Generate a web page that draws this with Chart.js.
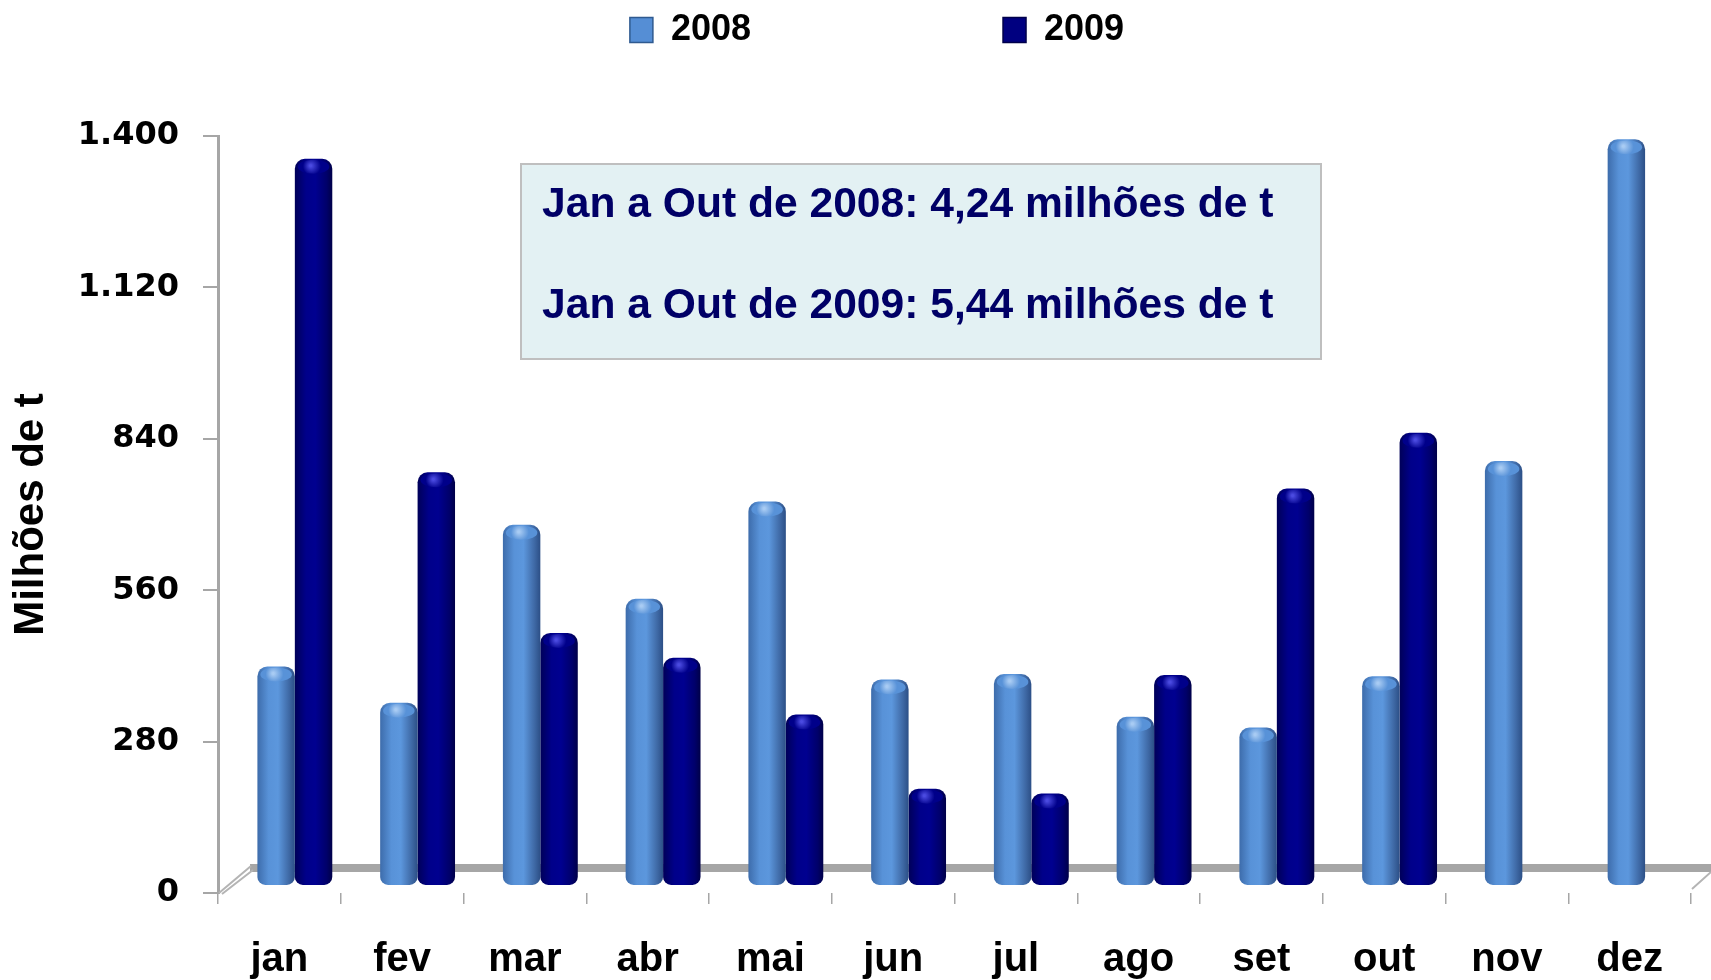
<!DOCTYPE html>
<html>
<head>
<meta charset="utf-8">
<script src="https://cdn.jsdelivr.net/npm/chart.js@4.4.1/dist/chart.umd.min.js"></script>
<style>
  html, body { margin: 0; padding: 0; background: #fff; }
</style>
</head>
<body>
<canvas id="grafico" width="1711" height="980"></canvas>
<script>
const meses = ['jan', 'fev', 'mar', 'abr', 'mai', 'jun', 'jul', 'ago', 'set', 'out', 'nov', 'dez'];
const valores2008 = [388, 321, 650, 513, 693, 364, 374, 295, 275, 370, 768, 1363];
const valores2009 = [1327, 747, 450, 404, 299, 162, 153, 372, 717, 820, null, null];
const ticksY = ['0', '280', '560', '840', '1.120', '1.400'];
const textoCaixa = ['Jan a Out de 2008: 4,24 milhões de t', 'Jan a Out de 2009: 5,44 milhões de t'];

const fonte = '"Liberation Sans", Arial, sans-serif';
const coresLegenda = ['#558ed5', '#000080'];
const bordasLegenda = ['#2f5a90', '#00004a'];
const catPct = 0.61;

// gradiente horizontal para parecer cilindro
const paradas = [
  [[0, '#3d6cab'], [0.3, '#5892d8'], [0.55, '#5c97dd'], [0.85, '#3e68a4'], [1, '#2c4f86']],
  [[0, '#000058'], [0.3, '#00008a'], [0.55, '#000090'], [0.85, '#00006a'], [1, '#000048']]
];

function cilindro(c) {
  const chart = c.chart;
  const xb = chart.scales.xb;
  if (!chart.chartArea || !xb || c.type !== 'data') return coresLegenda[c.datasetIndex];
  const w = xb.width / 12 * catPct / 2;
  const cx = xb.getPixelForValue(c.dataIndex) + (c.datasetIndex - 0.5) * w;
  const g = chart.ctx.createLinearGradient(cx - w / 2, 0, cx + w / 2, 0);
  paradas[c.datasetIndex].forEach(p => g.addColorStop(p[0], p[1]));
  return g;
}

const piso = {
  id: 'piso',
  beforeDatasetsDraw(chart) {
    const { ctx, chartArea } = chart;
    const y0 = chart.scales.y.getPixelForValue(0);
    const fundo = y0 - 25;
    ctx.save();
    ctx.strokeStyle = '#a6a6a6';
    ctx.lineWidth = 8;
    ctx.beginPath();
    ctx.moveTo(chartArea.left + 32, fundo);
    ctx.lineTo(chart.width, fundo);
    ctx.stroke();
    ctx.lineWidth = 2;
    ctx.strokeStyle = '#b4b4b4';
    ctx.beginPath();
    ctx.moveTo(chartArea.left + 1, y0);
    ctx.lineTo(chartArea.left + 33, fundo - 2);
    ctx.moveTo(chartArea.left + 4, y0 + 1);
    ctx.lineTo(chartArea.left + 35, fundo + 2);
    ctx.moveTo(chartArea.right + 1, y0 - 4);
    ctx.lineTo(chart.width, fundo + 4);
    ctx.stroke();
    ctx.restore();
  }
};

const tampas = {
  id: 'tampas',
  afterDatasetsDraw(chart) {
    const ctx = chart.ctx;
    const luz = [['#a8cbf3', '#5892d8'], ['#4a4ae0', '#00008a']];
    chart.data.datasets.forEach((ds, di) => {
      chart.getDatasetMeta(di).data.forEach((bar, i) => {
        if (ds.data[i].y == null) return;
        const { x, y, width } = bar.getProps(['x', 'y', 'width'], true);
        ctx.save();
        const g = ctx.createRadialGradient(x - width * 0.08, y + 7, 1, x, y + 8, width / 2);
        g.addColorStop(0, luz[di][0]);
        g.addColorStop(0.45, luz[di][1]);
        g.addColorStop(1, luz[di][1]);
        ctx.fillStyle = g;
        ctx.beginPath();
        ctx.ellipse(x, y + 8, width / 2 - 3, 7, 0, 0, Math.PI * 2);
        ctx.fill();
        ctx.restore();
      });
    });
  }
};

const caixa = {
  id: 'caixa',
  afterDraw(chart) {
    const ctx = chart.ctx;
    ctx.save();
    ctx.fillStyle = '#e3f1f3';
    ctx.fillRect(521, 164, 800, 195);
    ctx.strokeStyle = '#bfbfbf';
    ctx.lineWidth = 2;
    ctx.strokeRect(521, 164, 800, 195);
    ctx.fillStyle = '#000066';
    ctx.font = 'bold 42.6px ' + fonte;
    ctx.textBaseline = 'alphabetic';
    ctx.fillText(textoCaixa[0], 542, 217);
    ctx.fillText(textoCaixa[1], 542, 318);
    ctx.restore();
  }
};

const barras = (label, valores) => ({
  label: label,
  data: valores.map((v, i) => ({ x: i, y: v })),
  xAxisID: 'xb',
  yAxisID: 'yb',
  base: -16,
  backgroundColor: cilindro,
  borderWidth: 0,
  borderSkipped: false,
  borderRadius: { topLeft: 10, topRight: 10, bottomLeft: 8, bottomRight: 8 },
  categoryPercentage: catPct,
  barPercentage: 1
});

new Chart(document.getElementById('grafico'), {
  type: 'bar',
  data: {
    labels: meses,
    datasets: [barras('2008', valores2008), barras('2009', valores2009)]
  },
  options: {
    responsive: false,
    animation: false,
    layout: { padding: { left: 0, right: 20, top: 0, bottom: 0 } },
    plugins: {
      tooltip: { enabled: false },
      legend: {
        position: 'top',
        labels: {
          font: { family: fonte, size: 36, weight: 'bold' },
          color: '#000',
          boxWidth: 23,
          boxHeight: 25,
          padding: 12,
          generateLabels: (chart) => [{
            text: '\u00a0', fillStyle: 'rgba(0,0,0,0)', strokeStyle: 'rgba(0,0,0,0)', lineWidth: 0, hidden: false
          }].concat(chart.data.datasets.map((ds, i) => ({
            text: i === 0 ? ds.label + '\u00a0'.repeat(24) : ds.label,
            fillStyle: coresLegenda[i],
            strokeStyle: bordasLegenda[i],
            lineWidth: 1.5,
            hidden: false,
            datasetIndex: i,
            fontColor: '#000'
          })))
        }
      },
      subtitle: {
        display: true,
        text: '',
        weight: 500,
        font: { size: 10, lineHeight: 1 },
        padding: { top: 68, bottom: 0 }
      }
    },
    scales: {
      x: {
        type: 'category',
        position: 'bottom',
        offset: true,
        afterFit: (s) => { s.height = 87; },
        border: { display: false },
        grid: { offset: true, drawOnChartArea: false, drawTicks: true, tickLength: 11, color: '#a6a6a6', lineWidth: 1.5 },
        ticks: { color: '#000', padding: 32, font: { family: fonte, size: 40, weight: 'bold', lineHeight: 1.2 } }
      },
      y: {
        type: 'linear',
        position: 'left',
        min: 0,
        max: 1400,
        afterFit: (s) => { s.width = 218; },
        border: { display: true, color: '#a6a6a6', width: 3 },
        grid: { drawOnChartArea: false, drawTicks: true, tickLength: 15, color: '#a6a6a6', lineWidth: 2 },
        ticks: {
          stepSize: 280,
          padding: 24,
          color: '#000',
          font: { family: '"DejaVu Sans", Verdana, sans-serif', size: 32, weight: 'bold' },
          callback: (v, i) => ticksY[i]
        },
        title: {
          display: true,
          text: 'Milhões de t',
          color: '#000',
          padding: { top: 6, bottom: 0 },
          font: { family: fonte, size: 42, weight: 'bold', lineHeight: 1.2 }
        }
      },
      xb: {
        type: 'linear', display: false, offset: false, min: -0.626, max: 11.374, grid: { offset: false },
        afterBuildTicks: (s) => { s.ticks = meses.map((m, i) => ({ value: i })); }
      },
      yb: { type: 'linear', display: false, min: -31, max: 1369 }
    }
  },
  plugins: [piso, tampas, caixa]
});
</script>
</body>
</html>
